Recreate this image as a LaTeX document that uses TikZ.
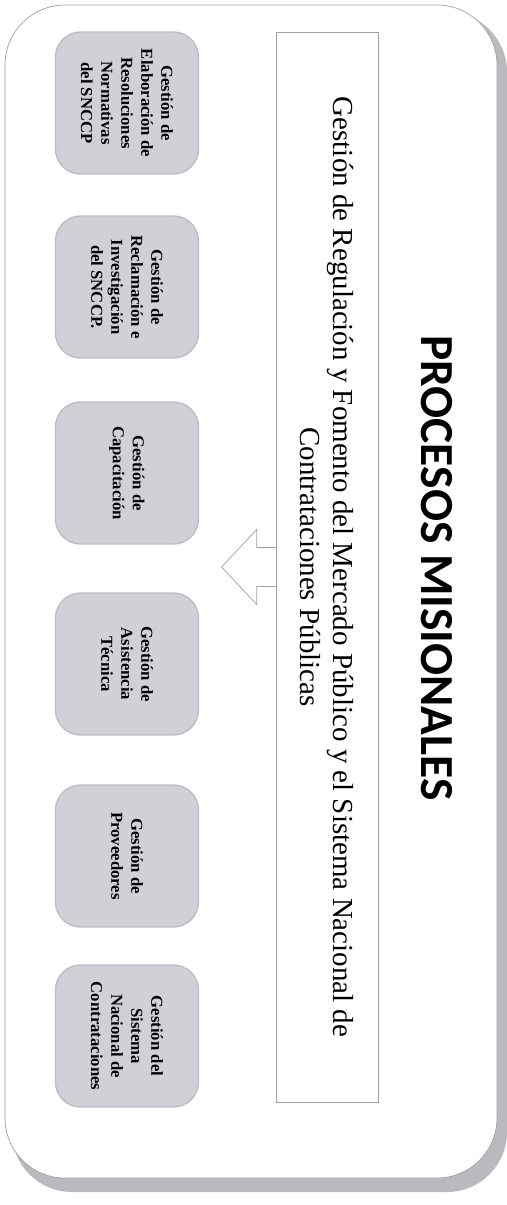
\documentclass[tikz,border=0pt]{standalone}
\usepackage{fontspec}
\setmainfont{Liberation Serif}
\newfontfamily\titlefont{Carlito}
\usetikzlibrary{positioning}

\definecolor{framegray}{RGB}{160,160,164}
\definecolor{shadowgray}{RGB}{185,185,190}
\definecolor{boxgray}{RGB}{208,209,215}
\definecolor{boxedge}{RGB}{190,190,196}

\begin{document}
\begin{tikzpicture}[x=0.02cm,y=0.02cm,
	gestbox/.style={rotate=-90,rounded corners=0.5cm,fill=boxgray,draw=boxedge,thick,
		minimum width=2.84cm,minimum height=2.86cm,align=center,inner sep=2pt,
		font=\fontsize{9.5}{11.4}\selectfont\bfseries},
	mainbox/.style={rotate=-90,draw=framegray,fill=white,minimum width=21.4cm,minimum height=2.04cm,
		align=center,font=\fontsize{16.5}{18.4}\selectfont},
	blockarrow/.style={draw=framegray,fill=white}]
	\useasboundingbox (0,0) rectangle (507,-1205);
	% draw frame and its shadow
	\fill[shadowgray,rounded corners=1.2cm] (12,-12) rectangle (507,-1192);
	\draw[framegray,fill=white,rounded corners=1.2cm] (5,-5) rectangle (497,-1178);
	% draw title
	\node[rotate=-90,font=\titlefont\fontsize{27}{30}\selectfont\bfseries] (title) at (437,-568) {PROCESOS MISIONALES};
	% draw main process
	\node[mainbox] (regbox) at (327,-567) {Gestión de Regulación y Fomento del Mercado Público y el Sistema Nacional de\\Contrataciones Públicas};
	% draw arrow
	\draw[blockarrow] ([yshift=0.39cm]regbox.south) -- ++(-19,0) -- ++(0,18) -- ++(-35,-37.5) -- ++(35,-37.5) -- ++(0,18) -- ++(19,0);
	% draw sub processes
	\node[gestbox] (gest1) at (127,-103) {Gestión de\\Elaboración de\\Resoluciones\\Normativas\\del SNCCP};
	\node[gestbox] (gest2) at (127,-287) {Gestión de\\Reclamación e\\Investigación\\del SNCCP.};
	\node[gestbox] (gest3) at (127,-473) {Gestión de\\Capacitación};
	\node[gestbox] (gest4) at (127,-664) {Gestión de\\Asistencia\\Técnica};
	\node[gestbox] (gest5) at (127,-856) {Gestión de\\Proveedores};
	\node[gestbox] (gest6) at (127,-1036) {Gestión del\\Sistema\\Nacional de\\Contrataciones};
\end{tikzpicture}
\end{document}
